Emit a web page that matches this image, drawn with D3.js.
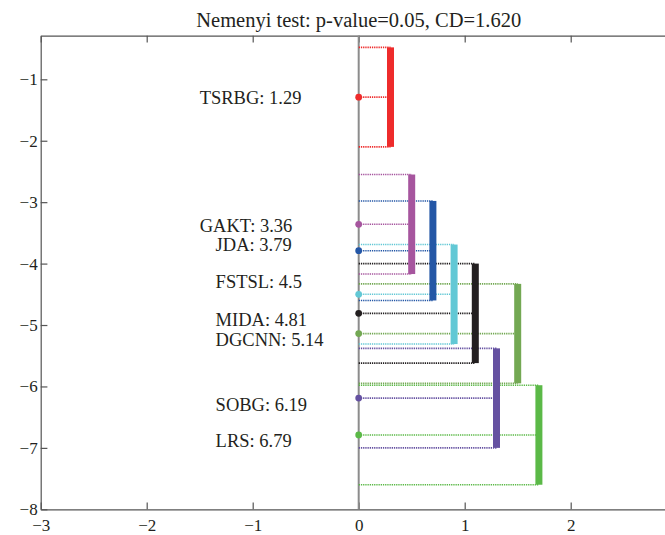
<!DOCTYPE html>
<meta charset="utf-8">
<script src="https://d3js.org/d3.v7.min.js"></script>
<style>
  body { margin: 0; background: #fff; }
  svg text { font-family: "Liberation Serif", "Times New Roman", serif; fill: #231f20; }
</style>
<div id="my_dataviz"></div>
<script>

// ---- data ----
const methods = ["TSRBG", "GAKT", "JDA", "FSTSL", "MIDA", "DGCNN", "SOBG", "LRS"];
const ranks   = [1.29, 3.36, 3.79, 4.5, 4.81, 5.14, 6.19, 6.79];
const barX    = [0.3, 0.5, 0.7, 0.9, 1.1, 1.5, 1.3, 1.7];   // where each CD bar stands
const cd = 1.62;
const pValue = 0.05;
const xTicks = [-3, -2, -1, 0, 1, 2];
const yTicks = [-1, -2, -3, -4, -5, -6, -7, -8];

// ---- layout / style ----
const colors = ["#ee2b2b", "#a6559e", "#2457a6", "#62c8d5", "#231f20", "#73a853", "#6551a1", "#5bb947"];
// label anchor (x in data units) and the small vertical nudge used in the figure
const labelX  = [-1.5, -1.5, -1.35, -1.35, -1.35, -1.35, -1.35, -1.35];
const labelDy = [-0.02, -0.02, 0.1, 0.2, -0.11, -0.11, -0.11, -0.1];

const W = 665, H = 535;
const plotLeft = 40.7, plotTop = 35.7, plotBottom = 509.3;

const svg = d3.select("#my_dataviz")
  .append("svg")
    .attr("width", W)
    .attr("height", H);

const x = d3.scaleLinear().domain([-3, 3]).range([plotLeft, plotLeft + 6 * 106]);
const y = d3.scaleLinear().domain([-8, -0.29]).range([plotBottom, plotTop]);

// title
svg.append("text")
    .attr("x", x(0))
    .attr("y", 26.7)
    .attr("text-anchor", "middle")
    .style("font-size", "20.5px")
    .text(`Nemenyi test: p-value=${pValue}, CD=${cd.toFixed(3)}`);

// axes (matlab style, ticks pointing inward)
const fmt = d3.format("d");
const styleAxis = g => {
  g.selectAll("path, line").attr("stroke", "#555").attr("stroke-width", 1.2);
  g.selectAll("text").style("font-size", "17px").attr("fill", "#231f20");
};

svg.append("g")
    .attr("transform", `translate(0,${plotBottom})`)
    .call(d3.axisBottom(x).tickValues(xTicks).tickFormat(fmt).tickSizeInner(-6.7).tickSizeOuter(0).tickPadding(9.5))
    .call(styleAxis);

svg.append("g")
    .attr("transform", `translate(0,${plotTop})`)
    .call(d3.axisTop(x).tickValues(xTicks).tickSizeInner(-6.7).tickSizeOuter(0).tickFormat(""))
    .call(styleAxis);

svg.append("g")
    .attr("transform", `translate(${plotLeft},0)`)
    .call(d3.axisLeft(y).tickValues(yTicks).tickFormat(fmt).tickSizeInner(-6.7).tickSizeOuter(0).tickPadding(3))
    .call(styleAxis);

// zero line
svg.append("line")
    .attr("x1", x(0)).attr("x2", x(0))
    .attr("y1", plotTop).attr("y2", plotBottom)
    .attr("stroke", "#8c8c8c")
    .attr("stroke-width", 2);

const half = cd / 2;
const rows = methods.map((m, i) => ({name: m, rank: ranks[i], bx: barX[i], color: colors[i], i: i}));

// dotted connectors: bar top, rank, bar bottom
rows.forEach(d => {
  [-d.rank + half, -d.rank, -d.rank - half].forEach(v => {
    svg.append("line")
        .attr("x1", x(0)).attr("x2", x(d.bx))
        .attr("y1", y(v)).attr("y2", y(v))
        .attr("stroke", d.color)
        .attr("stroke-width", 1.6)
        .attr("stroke-dasharray", "1.3,0.9");
  });
});

// CD bars
svg.append("g")
  .selectAll("rect")
  .data(rows)
  .join("rect")
    .attr("x", d => x(d.bx) - 3.5)
    .attr("width", 7)
    .attr("y", d => y(-d.rank + half))
    .attr("height", d => y(-d.rank - half) - y(-d.rank + half))
    .attr("fill", d => d.color);

// rank dots
svg.append("g")
  .selectAll("circle")
  .data(rows)
  .join("circle")
    .attr("cx", x(0))
    .attr("cy", d => y(-d.rank))
    .attr("r", 3.4)
    .attr("fill", d => d.color);

// labels
svg.append("g")
  .selectAll("text")
  .data(rows)
  .join("text")
    .attr("x", d => x(labelX[d.i]))
    .attr("y", d => y(-d.rank + labelDy[d.i]))
    .attr("dominant-baseline", "central")
    .style("font-size", "18.5px")
    .text(d => `${d.name}: ${d.rank}`);

</script>
